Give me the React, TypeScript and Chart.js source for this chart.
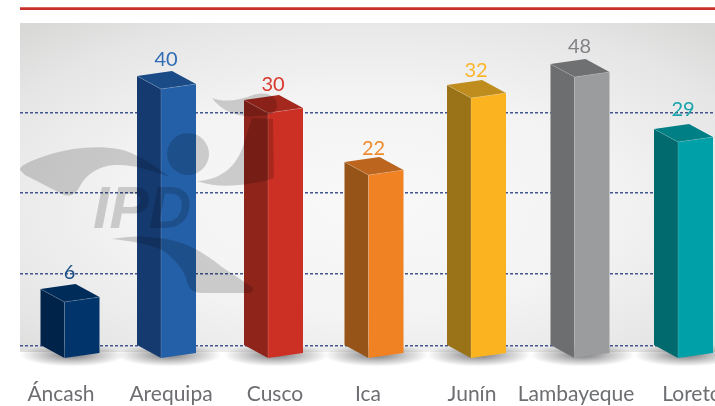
import React, { useEffect, useRef } from "react";
import { Chart, registerables, CategoryScale, LinearScale } from "chart.js";

const regions = ["Áncash", "Arequipa", "Cusco", "Ica", "Junín", "Lambayeque", "Loreto"];
const athletes = [6, 40, 30, 22, 32, 48, 29];
const gridValues = [0, 10, 20, 30];
const frontColors = ["#00346a", "#2460a8", "#cc3024", "#f08224", "#fbb41f", "#9b9c9e", "#00a0a8"];
const sideColors = ["#00234a", "#153a70", "#8f241b", "#965419", "#9a7319", "#6d6e70", "#006a6e"];
const topColors = ["#002c5a", "#1a4b86", "#a5281f", "#bb651f", "#bf8d1d", "#6f7072", "#008084"];
const textColors = ["#1c4f86", "#2f6cb4", "#d8382d", "#f08a2c", "#fbb52a", "#808285", "#18a5ab"];

// The source infographic is hand-drawn: its bars do not follow a straight axis above 30,
// and bars and labels sit at uneven steps. The two scales below carry that calibration.
const axisCalibration: [number, number][] = [
  [-1.5, -6], [0, 6], [6, 50], [10, 78], [20, 159], [22, 177],
  [29, 210], [30, 239], [32, 254], [40, 263], [48, 275], [60, 329],
];
const barCentres = [82, 178.5, 285.5, 386, 488.5, 592, 695.5];
const labelCentres = [61, 171, 275, 368, 472, 576, 692];
const valueLabelRise = [29, 29, 28, 26, 27, 30, 32];

class PictureValueScale extends LinearScale {
  static id = "pictureValue";
  static defaults = LinearScale.defaults;
  buildTicks() {
    return gridValues.map((value) => ({ value }));
  }
  getPixelForValue(value: number) {
    const t = axisCalibration;
    let i = 0;
    while (i < t.length - 2 && value > t[i + 1][0]) i++;
    const f = (value - t[i][0]) / (t[i + 1][0] - t[i][0]);
    return (this as any).bottom - (t[i][1] + f * (t[i + 1][1] - t[i][1]));
  }
}

class PictureCategoryScale extends CategoryScale {
  static id = "pictureCategory";
  static defaults = CategoryScale.defaults;
  getPixelForValue(value: any) {
    return barCentres[Math.round(Number(value))];
  }
  getPixelForTick(index: number) {
    return labelCentres[index];
  }
}

Chart.register(...registerables, PictureValueScale, PictureCategoryScale);

const poly = (ctx: CanvasRenderingContext2D, pts: number[][], fill: string) => {
  ctx.beginPath();
  pts.forEach((p, i) => (i ? ctx.lineTo(p[0], p[1]) : ctx.moveTo(p[0], p[1])));
  ctx.closePath();
  ctx.fillStyle = fill;
  ctx.fill();
};

const edge = (ctx: CanvasRenderingContext2D, a: number[], b: number[]) => {
  ctx.beginPath();
  ctx.moveTo(a[0], a[1]);
  ctx.lineTo(b[0], b[1]);
  ctx.strokeStyle = "rgba(255,255,255,0.16)";
  ctx.lineWidth = 1;
  ctx.stroke();
};

const DX = 24;
const DY = 13;
const RISE = 5;

const wallPlugin = {
  id: "wall",
  beforeDraw(chart: any) {
    const { ctx, chartArea: a } = chart;
    ctx.save();
    ctx.fillStyle = "#c9302a";
    ctx.fillRect(a.left, 7, a.right - a.left, 3);
    ctx.fillStyle = "rgba(255,255,255,0.25)";
    ctx.fillRect(a.left, 7, a.right - a.left, 1);

    const w = a.right - a.left;
    const h = a.bottom - a.top;
    const cx = a.left + w * 0.5;
    const cy = a.top + h * 0.55;
    ctx.beginPath();
    ctx.rect(a.left, a.top, w, h);
    ctx.clip();
    ctx.translate(cx, cy);
    ctx.scale(1, h / w);
    const g = ctx.createRadialGradient(0, 0, 30, 0, 0, w * 0.72);
    g.addColorStop(0, "#f8f8f8");
    g.addColorStop(0.45, "#f3f3f3");
    g.addColorStop(0.8, "#e6e6e6");
    g.addColorStop(1, "#d9d9d8");
    ctx.fillStyle = g;
    ctx.fillRect(-w, -w, w * 2, w * 2);
    ctx.restore();
  },
};

const barsPlugin = {
  id: "bars3d",
  beforeDatasetDraw(chart: any, args: any) {
    const { ctx } = chart;
    const meta = chart.getDatasetMeta(args.index);
    meta.data.forEach((el: any, i: number) => {
      const l = el.x - el.width / 2;
      const r = el.x + el.width / 2;
      const y = el.y;
      const b = el.base;
      ctx.save();
      ctx.translate(l + 8, b - 3);
      ctx.scale(1, 0.22);
      const sg = ctx.createRadialGradient(0, 0, 2, 0, 0, 52);
      sg.addColorStop(0, "rgba(40,40,45,0.6)");
      sg.addColorStop(0.55, "rgba(40,40,45,0.25)");
      sg.addColorStop(1, "rgba(40,40,45,0)");
      ctx.fillStyle = sg;
      ctx.fillRect(-60, -60, 120, 120);
      ctx.restore();

      poly(ctx, [[l, y], [l - DX, y - DY], [l - DX, b - DY], [l, b]], sideColors[i]);
      poly(ctx, [[l, y], [r, y - RISE], [r, b - RISE], [l, b]], el.options.backgroundColor);
      poly(ctx, [[l, y], [r, y - RISE], [r - DX, y - RISE - DY], [l - DX, y - DY]], topColors[i]);
      edge(ctx, [l, y], [l, b]);
      edge(ctx, [l, y], [r, y - RISE]);
      edge(ctx, [l, y], [l - DX, y - DY]);
    });
    return false;
  },
  afterDatasetsDraw(chart: any) {
    const { ctx } = chart;
    const shade = "rgba(0,0,0,0.17)";
    ctx.save();
    ctx.fillStyle = shade;

    // IPD watermark lying over the bars
    ctx.beginPath();
    ctx.moveTo(20, 170);
    ctx.bezierCurveTo(19, 166, 30, 161, 48, 155);
    ctx.bezierCurveTo(70, 148, 95, 145, 118, 149);
    ctx.bezierCurveTo(135, 152, 155, 166, 170, 177);
    ctx.bezierCurveTo(150, 170, 132, 164, 115, 165);
    ctx.bezierCurveTo(100, 166, 88, 172, 80, 186);
    ctx.bezierCurveTo(76, 194, 70, 198, 62, 194);
    ctx.lineTo(25, 175);
    ctx.closePath();
    ctx.fill();

    ctx.beginPath();
    ctx.arc(188, 154, 21, 0, Math.PI * 2);
    ctx.fill();

    ctx.beginPath();
    ctx.moveTo(197, 181);
    ctx.bezierCurveTo(222, 180, 238, 165, 244, 143);
    ctx.lineTo(252, 118);
    ctx.lineTo(273, 119);
    ctx.lineTo(274, 178);
    ctx.lineTo(265, 181);
    ctx.bezierCurveTo(248, 184, 222, 190, 197, 181);
    ctx.closePath();
    ctx.fill();

    ctx.beginPath();
    ctx.moveTo(212, 98);
    ctx.bezierCurveTo(225, 103, 240, 100, 253, 95);
    ctx.bezierCurveTo(265, 91, 277, 95, 277, 105);
    ctx.bezierCurveTo(277, 112, 270, 116, 258, 116);
    ctx.bezierCurveTo(240, 118, 222, 112, 212, 98);
    ctx.closePath();
    ctx.fill();

    ctx.beginPath();
    ctx.moveTo(112, 239);
    ctx.bezierCurveTo(125, 237, 135, 236, 148, 237);
    ctx.bezierCurveTo(165, 238, 172, 240, 182, 243);
    ctx.bezierCurveTo(200, 250, 212, 259, 222, 267);
    ctx.lineTo(252, 287);
    ctx.bezierCurveTo(255, 290, 252, 293, 248, 293);
    ctx.lineTo(202, 293);
    ctx.bezierCurveTo(195, 293, 190, 290, 188, 285);
    ctx.bezierCurveTo(186, 278, 185, 274, 182, 270);
    ctx.bezierCurveTo(176, 261, 170, 255, 162, 250);
    ctx.bezierCurveTo(150, 244, 130, 241, 112, 239);
    ctx.closePath();
    ctx.fill();

    ctx.font = "italic bold 59px 'Liberation Sans'";
    ctx.textAlign = "left";
    ctx.textBaseline = "alphabetic";
    ctx.fillText("IPD", 93, 228);
    ctx.restore();

    // value labels
    const meta = chart.getDatasetMeta(0);
    ctx.save();
    ctx.font = "20px Lato";
    ctx.textAlign = "center";
    ctx.textBaseline = "middle";
    meta.data.forEach((el: any, i: number) => {
      ctx.fillStyle = textColors[i];
      ctx.fillText(String(chart.data.datasets[0].data[i]), el.x - 12.5, el.y - valueLabelRise[i]);
    });
    ctx.restore();
  },
};

export default function App() {
  const ref = useRef<HTMLCanvasElement>(null);
  useEffect(() => {
    const chart = new Chart(ref.current as HTMLCanvasElement, {
      type: "bar",
      data: {
        labels: regions,
        datasets: [
          {
            data: athletes,
            backgroundColor: frontColors,
            barThickness: 35,
            base: -1.5,
          } as any,
        ],
      },
      plugins: [wallPlugin, barsPlugin],
      options: {
        responsive: false,
        animation: false,
        events: [],
        layout: { padding: { top: 23, left: 20, right: 0, bottom: 0 } },
        plugins: { legend: { display: false }, tooltip: { enabled: false } },
        scales: {
          x: {
            type: "pictureCategory",
            offset: true,
            afterFit(scale: any) {
              scale.height = 54;
              scale.paddingLeft = 0;
              scale.paddingRight = 0;
            },
            grid: { display: false },
            border: { display: false },
            ticks: {
              autoSkip: false,
              maxRotation: 0,
              minRotation: 0,
              padding: 22,
              color: "#6d6e71",
              font: { family: "Lato", size: 21 },
            },
          },
          y: {
            type: "pictureValue",
            min: -2,
            max: 60,
            afterFit(scale: any) {
              scale.width = 0;
              scale.paddingTop = 0;
              scale.paddingBottom = 0;
            },
            border: { display: false, dash: [3, 2] },
            grid: {
              drawTicks: false,
              color: "#42578d",
              lineWidth: 1.4,
            },
            ticks: { display: false },
          } as any,
        } as any,
        elements: { bar: { borderWidth: 0 } },
      },
    } as any);
    return () => chart.destroy();
  }, []);
  return (
    <div style={{ position: "fixed", left: 0, top: 0, width: 715, height: 406, background: "#fff" }}>
      <canvas ref={ref} width={715} height={406} style={{ display: "block", width: 715, height: 406 }} />
    </div>
  );
}
